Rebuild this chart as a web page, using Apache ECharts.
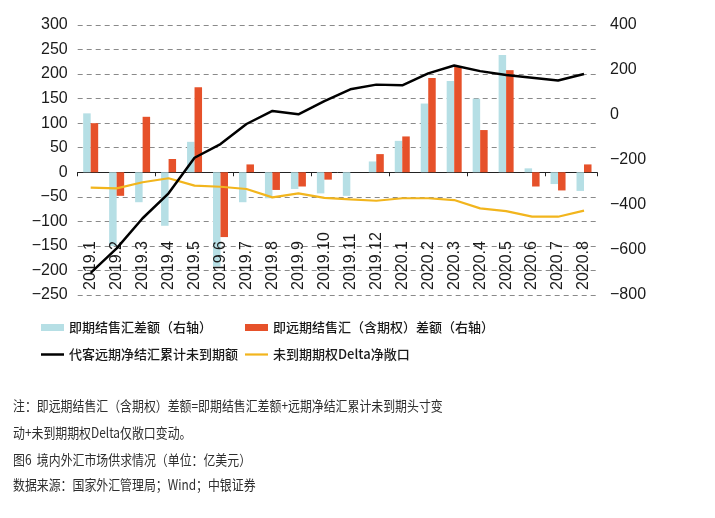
<!DOCTYPE html>
<html>
<head>
<meta charset="utf-8">
<script src="https://cdn.jsdelivr.net/npm/echarts@6/dist/echarts.min.js"></script>
<style>
html,body{margin:0;padding:0;background:#fff;}
#main{width:715px;height:518px;}
</style>
</head>
<body>
<div id="main"></div>
<script>
const categories = ['2019.1','2019.2','2019.3','2019.4','2019.5','2019.6','2019.7','2019.8','2019.9','2019.10','2019.11','2019.12','2020.1','2020.2','2020.3','2020.4','2020.5','2020.6','2020.7','2020.8'];
const spotBalance = [120,-150,-61,-109,62,-192,-61,-53,-34,-43,-48,22,64,140,186,150,239,8,-24,-38];
const spotForwardBalance = [100,-48,113,27,173,-132,16,-36,-29,-15,0,37,73,192,215,86,208,-29,-37,16];
const forwardOutstanding = [-702,-593,-459,-348,-190,-129,-40,18,3,62,114,135,132,185,220,195,178,166,153,182];
const deltaExposure = [-323,-326,-299,-281,-314,-319,-329,-366,-348,-368,-375,-381,-370,-370,-378,-415,-427,-452,-452,-425];

const seriesNames = ['即期结售汇差额（右轴）','即远期结售汇（含期权）差额（右轴）','代客远期净结汇累计未到期额','未到期期权Delta净敞口'];
const noteLines = [
  '注：即远期结售汇（含期权）差额=即期结售汇差额+远期净结汇累计未到期头寸变',
  '动+未到期期权Delta仅敞口变动。',
  '图6  境内外汇市场供求情况（单位：亿美元）',
  '数据来源：国家外汇管理局；Wind；中银证券'
];

const chart = echarts.init(document.getElementById('main'), null, {renderer:'canvas'});
const labelFont = '"Liberation Sans", Arial, sans-serif';
const cjkFont = '"Noto Sans CJK SC", sans-serif';
const colors = ['#b6dfe5','#e6512a','#000000','#f2b51d'];

function legendAt(i, left, top, icon, h) {
  return {
    data:[{name:seriesNames[i], icon:icon}], left:left, top:top, itemWidth:23, itemHeight:h, itemGap:0,
    textStyle:{fontSize:13, color:'#1a1a1a', fontFamily:cjkFont, fontWeight:500},
    selectedMode:false
  };
}

const noteY = [406, 433, 460, 485];
const graphics = noteLines.map((t, i) => ({
  type:'text', x:13, y:noteY[i], scaleX:0.85,
  style:{text:t, fontSize:14, fill:'#2e2e2e', fontFamily:cjkFont, verticalAlign:'middle', align:'left'}
}));

chart.setOption({
  animation:false,
  backgroundColor:'#fff',
  grid:{left:77.7, right:118, top:25, bottom:223, containLabel:false},
  legend:[
    legendAt(0, 36, 316, 'rect', 7),
    legendAt(1, 240, 316, 'rect', 7),
    legendAt(2, 36, 343, 'rect', 2.5),
    legendAt(3, 240, 343, 'rect', 2.2)
  ],
  xAxis:[
    {
      type:'category', data:categories, boundaryGap:true,
      axisLine:{onZero:true, onZeroAxisIndex:0, lineStyle:{color:'#222', width:1}},
      axisTick:{show:true, length:4, lineStyle:{color:'#222'}},
      axisLabel:{show:false}
    },
    {
      type:'category', data:categories, boundaryGap:true, position:'bottom', z:10,
      axisLine:{show:false, onZero:false}, axisTick:{show:false},
      axisLabel:{inside:true, rotate:90, margin:5, fontSize:16, color:'#1a1a1a', fontFamily:labelFont, interval:0}
    }
  ],
  yAxis:[
    {
      type:'value', min:-250, max:300, interval:50, position:'left',
      axisLine:{show:false}, axisTick:{show:false},
      axisLabel:{fontSize:16, color:'#1a1a1a', fontFamily:labelFont, margin:10,
        formatter:v => (v < 0 ? '\u2212' + Math.abs(v) : String(v))},
      splitLine:{show:true, lineStyle:{type:[5,4], color:'#8a8a8a', width:1}}
    },
    {
      type:'value', min:-800, max:400, interval:200, position:'right',
      axisLine:{show:false}, axisTick:{show:false},
      axisLabel:{fontSize:16, color:'#1a1a1a', fontFamily:labelFont, margin:13,
        formatter:v => (v < 0 ? '\u2212' + Math.abs(v) : String(v))},
      splitLine:{show:false}
    }
  ],
  series:[
    {name:seriesNames[0], type:'bar', xAxisIndex:0, yAxisIndex:0, data:spotBalance, barWidth:7.5, barGap:'0%',
      itemStyle:{color:colors[0]}},
    {name:seriesNames[1], type:'bar', xAxisIndex:0, yAxisIndex:0, data:spotForwardBalance, barWidth:7.5, barGap:'0%',
      itemStyle:{color:colors[1]}},
    {name:seriesNames[2], type:'line', xAxisIndex:0, yAxisIndex:1, data:forwardOutstanding, symbol:'none', showSymbol:false,
      lineStyle:{color:colors[2], width:2.5}, itemStyle:{color:colors[2]}, z:12},
    {name:seriesNames[3], type:'line', xAxisIndex:0, yAxisIndex:1, data:deltaExposure, symbol:'none', showSymbol:false,
      lineStyle:{color:colors[3], width:2.2}, itemStyle:{color:colors[3]}, z:11}
  ],
  graphic:graphics
});
</script>
</body>
</html>
